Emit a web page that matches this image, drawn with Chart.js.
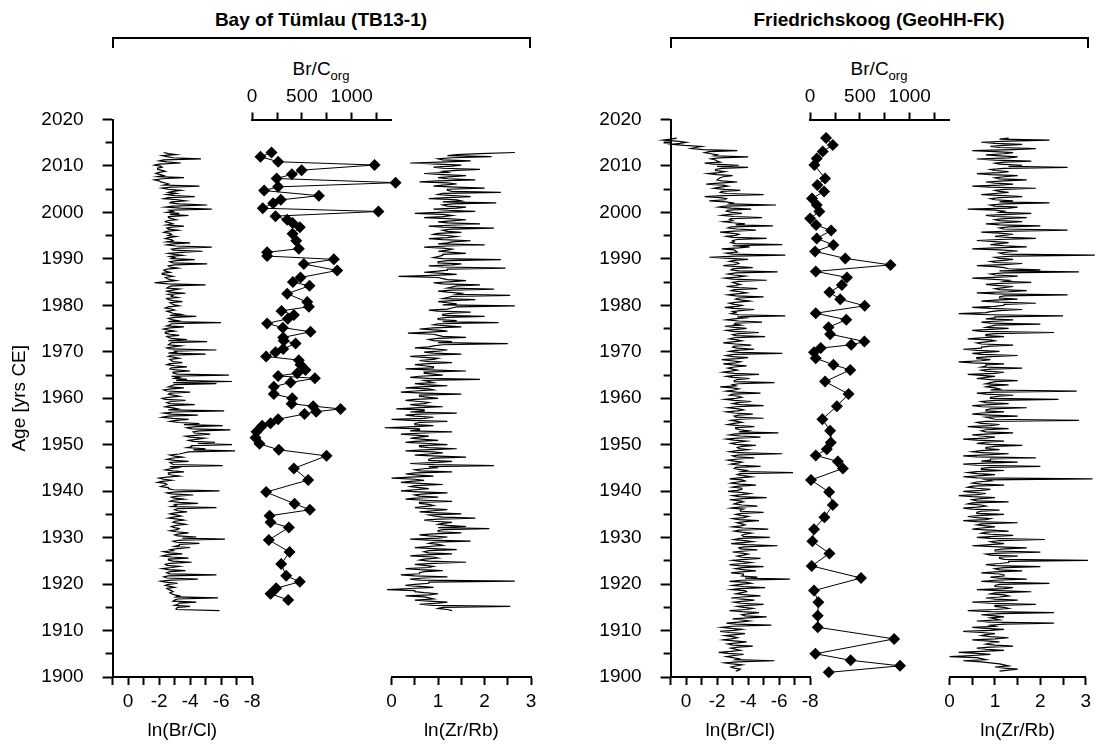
<!DOCTYPE html>
<html><head><meta charset="utf-8">
<script src="https://cdn.jsdelivr.net/npm/chart.js@4.4.1/dist/chart.umd.min.js"></script>
<style>
html,body{margin:0;padding:0;background:#fff;}
#wrap{position:relative;width:1096px;height:747px;overflow:hidden;font-family:"Liberation Sans",Arial,sans-serif;color:#000;background:#fff;}
canvas{position:absolute;left:0;top:0;}
.ttl{position:absolute;font-weight:bold;font-size:19px;white-space:nowrap;transform:translate(-50%,-50%);line-height:1;}
.brk{position:absolute;border:2px solid #000;border-bottom:none;height:11px;box-sizing:border-box;}
.lab{position:absolute;font-size:19px;white-space:nowrap;transform:translate(-50%,-50%);line-height:1;}
.lab sub{font-size:13px;vertical-align:-5px;line-height:1;}
</style></head><body>
<div id="wrap">
  <div class="ttl" style="left:321px;top:19px">Bay of Tümlau (TB13-1)</div>
  <div class="ttl" style="left:879px;top:19px">Friedrichskoog (GeoHH-FK)</div>
  <div class="brk" style="left:112px;top:37px;width:419px"></div>
  <div class="brk" style="left:670px;top:37px;width:419px"></div>
  <div class="lab" style="left:321px;top:70px">Br/C<sub>org</sub></div>
  <div class="lab" style="left:879px;top:70px">Br/C<sub>org</sub></div>
  <canvas id="c0" width="1096" height="747"></canvas>
  <canvas id="c1" width="1096" height="747"></canvas>
  <canvas id="c2" width="1096" height="747"></canvas>
  <canvas id="c3" width="1096" height="747"></canvas>
  <canvas id="c4" width="1096" height="747"></canvas>
  <canvas id="c5" width="1096" height="747"></canvas>
</div>
<script>
// ---------------- DATA ----------------
const ageMajorTicks = [1900,1910,1920,1930,1940,1950,1960,1970,1980,1990,2000,2010,2020];
const ageMinorTicks = [1905,1915,1925,1935,1945,1955,1965,1975,1985,1995,2005,2015];
const brclTicks = [1,0,-1,-2,-3,-4,-5,-6,-7,-8];
const zrrbTicks = [0,0.5,1,1.5,2,2.5,3];
const brcorgTicks = [0,250,500,750,1000,1250];

// Bay of Tümlau (TB13-1): XRF scan, samples evenly spaced between top and bottom age
const tbScanAgeRange = [2012.9, 1914.3];
const tbBrCl = [
-2.3,-2.6,-3.1,-2.2,-2.5,-2.9,-4.7,-2.3,-2.0,-2.5,-3.4,-2.0,-1.7,-2.1,-2.2,-1.9,-1.9,-2.2,-2.4,-2.0,
-1.8,-2.1,-2.3,-1.9,-3.6,-2.2,-1.7,-2.0,-2.1,-2.4,-2.6,-2.3,-4.6,-2.8,-2.2,-2.6,-3.4,-2.9,-2.6,-3.1,
-2.5,-3.0,-4.3,-2.6,-2.3,-3.2,-3.7,-2.8,-2.7,-3.3,-5.1,-2.9,-2.4,-3.4,-5.4,-2.7,-2.9,-2.5,-3.3,-2.7,
-3.9,-2.6,-2.6,-2.8,-3.1,-2.5,-2.4,-2.7,-2.9,-2.5,-3.6,-2.8,-2.5,-2.6,-3.2,-2.5,-2.3,-2.7,-2.8,-2.6,
-3.1,-2.6,-2.4,-2.8,-2.9,-2.5,-4.0,-2.9,-2.5,-3.1,-5.4,-3.3,-2.8,-2.9,-4.8,-3.4,-2.6,-3.0,-3.5,-2.7,
-3.0,-2.8,-4.3,-3.1,-2.7,-2.9,-5.1,-3.0,-2.6,-2.7,-3.2,-2.5,-2.3,-2.4,-2.7,-2.2,-2.2,-2.6,-2.9,-2.4,
-2.5,-2.7,-3.1,-2.4,-1.7,-2.6,-5.0,-2.8,-2.6,-2.5,-3.3,-2.9,-2.5,-2.7,-3.7,-2.6,-2.9,-2.8,-3.2,-2.5,
-2.6,-2.9,-3.5,-2.7,-2.8,-3.0,-3.3,-2.6,-2.4,-2.8,-3.0,-2.5,-2.7,-2.9,-3.4,-2.7,-4.4,-3.0,-2.6,-2.8,
-3.2,-2.6,-6.0,-2.8,-2.7,-2.5,-3.6,-2.7,-2.3,-2.6,-3.0,-2.4,-2.4,-2.7,-3.3,-2.5,-2.6,-2.8,-3.8,-2.6,
-5.1,-2.8,-2.7,-2.6,-3.4,-2.9,-2.5,-2.7,-5.7,-3.0,-3.1,-2.6,-5.0,-2.8,-2.6,-3.0,-3.3,-2.7,-2.8,-2.9,
-3.5,-2.7,-2.5,-3.0,-3.8,-2.8,-2.7,-3.1,-4.0,-2.9,-2.9,-3.2,-6.5,-2.8,-3.3,-3.0,-3.8,-3.1,-6.7,-2.9,
-5.7,-3.0,-2.8,-2.6,-3.6,-2.8,-2.3,-2.5,-4.0,-2.7,-2.6,-2.9,-3.3,-2.6,-2.2,-2.4,-3.7,-2.8,-2.5,-2.7,
-4.3,-2.7,-2.4,-2.9,-3.2,-2.6,-6.2,-3.0,-2.3,-2.8,-4.5,-2.6,-2.2,-2.9,-3.9,-3.1,-2.7,-3.3,-4.6,-3.6,
-6.1,-4.4,-3.8,-4.1,-6.6,-4.6,-4.2,-4.3,-5.3,-4.5,-3.7,-4.0,-4.9,-4.4,-3.9,-4.2,-5.6,-4.5,-6.7,-4.1,
-4.1,-3.8,-5.0,-4.2,-6.9,-3.9,-3.6,-3.3,-2.7,-3.0,-3.5,-2.8,-2.5,-3.0,-3.9,-2.7,-2.8,-2.9,-6.1,-2.7,
-3.2,-2.7,-2.4,-2.9,-3.6,-2.6,-2.6,-2.8,-3.3,-2.5,-2.0,-2.3,-2.8,-2.2,-1.9,-2.4,-2.5,-2.3,-2.1,-2.6,
-2.6,-2.9,-5.9,-3.1,-2.5,-2.8,-4.2,-3.2,-2.8,-3.0,-3.6,-2.9,-2.7,-3.3,-4.5,-3.0,-3.1,-2.8,-5.7,-3.2,
-3.0,-3.2,-3.8,-3.0,-2.7,-3.1,-3.4,-2.9,-2.6,-3.2,-3.6,-3.0,-2.9,-3.3,-3.7,-3.1,-2.8,-3.0,-3.3,-3.2,
-2.7,-3.1,-3.9,-3.3,-3.0,-3.2,-4.4,-3.5,-6.25,-3.4,-2.9,-3.1,-4.6,-3.3,-3.3,-3.0,-4.0,-3.2,-2.7,-2.9,
-2.3,-2.7,-3.5,-2.5,-2.2,-2.8,-3.9,-2.6,-2.6,-2.9,-4.1,-2.7,-2.4,-2.5,-3.3,-2.8,-2.2,-2.6,-3.7,-2.7,
-2.5,-2.7,-5.7,-2.6,-2.3,-2.5,-4.5,-2.8,-2.1,-2.4,-3.2,-2.6,-2.4,-2.7,-3.0,-2.5,-2.6,-2.8,-2.9,-2.7,
-2.8,-3.0,-3.3,-3.1,-5.8,-3.2,-3.0,-2.9,-4.4,-3.3,-3.2,-3.0,-4.0,-3.2,-3.1,-3.1,-5.9];
const tbZrRb = [
2.65,1.9,1.4,1.2,2.15,1.3,1.0,1.1,1.7,1.2,0.4,1.0,1.5,1.3,0.9,1.1,1.9,1.4,1.1,1.2,
0.7,1.1,1.6,1.3,1.0,1.2,1.8,1.0,0.6,1.2,1.4,1.1,0.9,1.4,2.0,1.2,1.2,1.3,2.35,1.1,
1.0,1.3,1.7,1.2,0.8,1.4,1.5,1.1,2.25,1.3,1.1,1.2,1.6,1.4,0.9,1.2,1.8,1.0,0.5,1.1,
1.3,1.1,0.7,1.2,1.6,1.3,1.0,1.2,1.9,1.4,0.8,1.1,2.2,1.3,1.1,1.2,1.5,1.0,0.9,1.2,
1.4,1.2,0.8,1.1,1.7,1.3,1.2,1.0,2.0,1.2,0.7,1.1,1.3,1.2,1.0,1.3,1.6,1.1,1.1,1.0,
0.9,1.1,2.35,1.2,1.0,1.0,1.5,1.3,0.8,1.1,2.45,1.2,1.2,1.0,0.7,1.1,1.4,0.9,0.15,1.0,
1.1,1.2,1.6,1.3,0.9,1.1,1.9,1.4,1.3,1.2,2.2,1.3,1.0,1.2,1.5,1.4,2.55,1.3,1.2,1.1,
1.8,1.3,1.0,1.2,1.4,1.1,2.65,1.4,1.3,1.2,0.8,1.0,1.7,1.3,1.1,1.1,2.0,1.2,1.0,1.0,
1.4,1.1,2.3,1.0,0.9,1.2,1.5,0.9,0.6,1.0,1.2,0.8,0.35,0.9,1.0,1.1,1.6,1.0,0.8,0.9,
1.3,1.0,2.5,1.1,0.9,0.8,0.5,0.9,1.2,1.0,0.7,0.9,1.5,0.8,0.4,0.7,1.0,0.9,0.6,0.8,
1.3,0.8,0.5,0.7,0.9,0.9,0.3,0.8,1.6,0.7,0.7,0.9,1.1,0.6,0.4,0.8,1.9,0.7,0.8,0.9,
0.5,0.7,1.2,0.6,0.3,0.8,0.9,0.5,0.2,0.7,1.5,0.6,0.6,0.8,1.0,0.5,0.3,0.6,0.8,0.7,
0.4,0.6,1.1,0.5,0.1,0.7,0.7,0.4,1.4,0.6,0.3,0.5,0.9,0.7,0.0,0.4,1.2,0.6,0.5,0.5,
0.9,0.5,-0.15,0.6,0.6,0.4,1.3,0.7,0.2,0.5,0.8,0.6,0.4,0.7,1.0,0.5,0.3,0.8,1.2,0.6,
0.6,0.8,1.4,0.7,0.3,0.9,1.1,0.8,0.5,1.0,1.6,0.9,0.8,0.8,1.3,1.0,0.4,0.9,2.2,0.8,
1.0,0.7,0.5,0.6,1.3,0.5,0.3,0.6,0.9,0.4,0.0,0.5,0.7,0.4,0.2,0.6,1.1,0.5,0.4,0.6,
0.8,0.5,0.2,0.6,1.2,0.7,0.5,0.6,1.0,0.5,0.3,0.7,1.3,0.6,0.6,0.8,0.9,0.7,0.5,0.8,
1.2,0.9,0.6,1.0,1.5,0.8,0.9,1.1,1.8,1.0,0.7,0.9,1.3,1.1,1.0,1.2,1.6,1.0,2.1,1.1,
1.0,1.0,1.5,0.9,0.6,0.8,1.2,1.0,0.4,0.8,1.7,0.9,0.8,1.0,1.1,0.8,0.5,0.9,1.4,0.8,
0.7,0.8,1.3,0.7,0.4,0.9,1.0,0.7,0.6,0.8,1.6,0.9,0.5,0.7,0.9,0.8,0.3,0.6,1.1,0.7,
0.6,0.6,0.2,0.5,1.2,0.7,0.4,0.6,2.65,0.8,0.8,0.5,0.3,0.6,0.9,0.4,-0.1,0.5,0.5,0.7,
1.0,0.8,0.3,0.7,0.8,0.9,0.5,0.8,1.2,1.0,0.6,0.9,2.55,1.1,1.0,1.2,1.3];
const tbBrCorgAge = [2012.9,2012.0,2010.9,2010.2,2009.1,2008.2,2007.3,2006.4,2005.5,2004.7,
2003.6,2002.7,2002.0,2000.9,2000.2,1999.2,1998.4,1997.7,1996.8,1995.4,
1993.9,1992.2,1991.4,1990.6,1989.9,1988.9,1987.5,1986.0,1985.0,1984.2,
1982.5,1980.7,1979.7,1978.8,1977.9,1977.1,1976.1,1975.2,1974.3,1973.1,
1972.4,1971.8,1970.6,1969.9,1969.0,1968.2,1967.2,1966.1,1965.4,1964.8,
1964.3,1963.4,1962.5,1960.9,1960.0,1958.8,1958.3,1957.7,1957.1,1956.6,
1955.5,1954.6,1954.1,1952.8,1951.5,1950.2,1948.9,1947.6,1944.9,1942.4,
1939.8,1937.3,1936.0,1934.7,1933.3,1932.2,1929.5,1926.9,1924.3,1921.8,
1920.5,1919.1,1917.9,1916.6];
const tbBrCorg = [195,84,261,1229,497,399,246,1440,261,121,
670,288,211,107,1268,235,352,406,479,406,
443,469,151,151,820,519,854,486,409,576,
352,553,570,295,419,358,151,308,586,312,
318,436,312,235,141,469,486,536,453,261,
630,386,218,218,403,396,613,888,643,526,
261,185,101,44,34,74,268,747,419,563,
141,426,580,175,185,369,168,376,292,342,
479,242,185,362];

// Friedrichskoog (GeoHH-FK)
const fkScanAgeRange = [2016.0, 1901.25];
const fkBrCl = [
0.6,1.0,1.5,0.6,0.0,0.4,0.9,0.1,-1.0,-0.6,-0.3,-1.1,-3.3,-1.5,-1.2,-1.6,-2.0,-1.8,-4.0,-2.1,
-1.6,-1.9,-2.0,-2.2,-1.2,-1.8,-3.4,-2.0,-4.0,-2.3,-1.9,-1.9,-2.5,-2.1,-1.4,-2.0,-3.0,-2.4,-2.2,-2.1,
-2.0,-2.3,-3.3,-2.1,-1.3,-2.4,-2.7,-2.2,-1.8,-2.5,-3.5,-2.3,-2.2,-2.6,-5.0,-2.4,-1.2,-2.2,-2.6,-2.5,
-1.5,-2.6,-3.0,-2.8,-5.8,-2.5,-2.1,-2.9,-4.2,-2.7,-2.6,-3.0,-3.6,-2.8,-2.3,-3.1,-4.9,-2.9,-2.8,-3.0,
-2.4,-3.0,-3.8,-3.2,-5.6,-2.9,-2.7,-3.3,-4.5,-3.1,-2.2,-2.9,-3.4,-3.2,-2.6,-3.0,-5.2,-3.3,-3.0,-3.1,
-2.9,-3.2,-6.2,-3.0,-4.1,-3.4,-2.3,-3.1,-3.2,-3.3,-2.6,-3.0,-6.4,-3.2,-1.5,-2.8,-4.0,-3.1,-2.8,-3.3,
-3.4,-3.1,-2.4,-3.3,-4.3,-3.0,-2.9,-3.4,-5.9,-3.2,-2.7,-3.1,-3.8,-3.3,-2.5,-3.0,-5.2,-3.4,-3.0,-3.2,
-3.5,-3.2,-2.6,-3.4,-4.6,-3.1,-2.9,-3.5,-3.9,-3.3,-2.7,-3.2,-5.0,-3.4,-3.2,-3.6,-4.1,-3.3,-2.8,-3.1,
-3.6,-3.3,-2.5,-3.1,-4.4,-3.5,-3.0,-3.2,-2.9,-3.4,-6.4,-3.3,-3.8,-3.1,-2.6,-3.4,-4.9,-3.2,-3.1,-3.5,
-2.5,-3.1,-3.9,-3.3,-2.6,-3.0,-4.7,-3.4,-3.0,-3.2,-5.1,-3.1,-2.8,-3.3,-3.6,-3.0,-2.4,-3.2,-4.2,-3.1,
-3.0,-3.3,-4.4,-3.2,-2.8,-3.4,-6.2,-3.1,-2.6,-3.0,-4.0,-3.3,-2.3,-2.9,-3.5,-3.2,-2.4,-3.0,-3.9,-3.1,
-2.7,-3.0,-3.3,-2.9,-2.4,-3.1,-4.7,-3.2,-2.6,-3.0,-4.1,-3.3,-3.1,-3.1,-5.7,-3.4,-3.0,-3.2,-2.2,-3.0,
-3.4,-3.1,-2.6,-3.3,-4.8,-3.0,-2.8,-3.4,-3.6,-3.2,-2.5,-3.1,-4.2,-3.3,-3.0,-3.5,-5.0,-3.2,-2.7,-3.4,
-3.7,-3.3,-2.6,-3.1,-4.3,-3.4,-3.1,-3.2,-5.0,-3.5,-2.9,-3.3,-3.6,-3.1,-2.7,-3.4,-4.4,-3.2,-3.2,-3.5,
-4.0,-3.4,-5.95,-3.2,-2.8,-3.5,-4.8,-3.3,-2.6,-3.1,-3.9,-3.4,-2.9,-3.2,-4.5,-3.6,-3.3,-3.4,-4.0,-3.3,
-2.8,-3.3,-6.2,-3.5,-3.0,-3.2,-4.4,-3.4,-2.7,-3.1,-3.6,-3.3,-2.9,-3.5,-4.8,-3.2,-3.1,-3.4,-3.9,-3.6,
-6.9,-3.5,-3.3,-3.7,-4.2,-3.4,-2.8,-3.6,-3.8,-3.3,-2.9,-3.5,-4.5,-3.4,-3.0,-3.6,-3.6,-3.3,-2.7,-3.5,
-4.1,-3.6,-3.0,-3.4,-5.2,-3.7,-2.8,-3.5,-3.7,-3.3,-3.1,-3.6,-4.6,-3.4,-2.9,-3.7,-3.5,-3.5,-5.0,-3.6,
-3.2,-3.5,-4.0,-3.7,-3.0,-3.4,-4.7,-3.8,-3.3,-3.6,-3.8,-3.5,-3.0,-3.7,-5.3,-3.4,-3.1,-3.6,-4.2,-3.8,
-3.6,-3.7,-5.4,-3.5,-3.1,-3.8,-4.3,-3.6,-2.9,-3.9,-5.9,-3.7,-3.4,-3.5,-4.6,-3.8,-3.0,-3.6,-4.0,-3.7,
-3.3,-3.6,-4.8,-3.8,-3.0,-3.5,-4.2,-3.7,-2.8,-3.4,-5.0,-3.6,-3.2,-3.8,-4.5,-3.5,-2.9,-3.7,-3.7,-3.6,
-4.6,-3.8,-6.7,-3.6,-2.8,-3.9,-4.2,-3.5,-3.0,-3.7,-5.1,-3.4,-2.9,-3.8,-3.9,-3.5,-3.2,-3.9,-4.8,-3.6,
-2.9,-3.6,-4.4,-3.8,-3.1,-3.5,-5.0,-4.0,-3.3,-3.7,-4.3,-3.9,-2.8,-3.6,-4.7,-4.1,-3.6,-3.8,-5.2,-4.0,
-3.0,-3.6,-4.1,-3.4,-2.6,-3.2,-5.5,-3.0,-2.3,-2.9,-3.6,-3.1,-2.2,-2.8,-3.8,-3.2,-2.5,-3.0,-3.3,-2.9,
-2.4,-3.1,-3.9,-3.3,-2.7,-3.0,-4.3,-3.4,-2.9,-3.2,-3.5,-2.9,-2.1,-2.7,-3.7,-3.1,-2.6,-3.0,-3.4,-3.2,
-5.7,-3.3,-2.5,-3.0,-3.6,-3.2,-2.9,-3.1,-3.5,-3.4,-3.2];
const fkZrRb = [
1.3,1.1,2.2,1.3,0.7,1.0,1.6,1.2,0.9,1.1,1.9,1.4,0.5,1.0,1.4,1.2,0.8,1.1,1.5,1.3,
0.6,1.0,1.8,1.2,1.0,1.1,1.6,1.3,2.6,1.2,0.9,1.0,1.3,1.1,0.6,0.9,1.5,1.2,1.0,1.1,
1.7,1.2,0.8,1.0,1.4,1.1,0.5,0.9,1.9,1.2,1.0,1.1,1.3,1.0,0.7,1.2,1.6,1.1,0.9,1.0,
1.4,1.1,2.2,1.2,0.9,1.0,1.5,1.3,0.4,1.0,1.2,1.1,1.8,1.3,0.8,1.0,1.7,1.2,1.0,1.1,
1.6,1.2,0.8,1.1,2.0,1.3,1.1,1.2,2.6,1.4,0.7,1.1,1.4,1.2,1.0,1.3,1.9,1.1,0.6,1.0,
1.3,1.1,0.9,1.2,1.7,1.0,0.5,1.1,1.5,1.3,1.1,1.2,3.2,1.4,1.0,1.1,1.4,1.2,0.9,1.0,
1.6,1.2,0.6,1.0,1.2,1.3,2.0,1.1,2.85,1.2,0.9,1.0,1.5,1.1,0.5,0.9,1.3,1.2,1.8,1.1,
0.8,1.0,1.4,1.2,1.0,1.1,1.7,1.3,0.6,1.0,2.6,1.2,1.1,1.1,1.5,1.0,0.7,1.1,1.9,1.2,
1.2,1.0,0.5,0.9,1.6,1.1,0.9,0.8,0.2,0.9,2.5,1.0,1.0,0.8,1.4,1.1,0.7,0.9,2.0,1.0,
0.9,0.8,1.3,0.9,0.5,0.7,2.3,1.0,0.8,0.8,1.2,0.7,0.4,0.9,1.0,0.8,0.6,0.7,1.4,0.9,
0.7,0.7,0.3,0.6,1.1,0.8,0.5,0.7,1.5,0.9,0.6,0.6,0.9,0.7,0.2,0.5,1.2,0.8,0.8,0.7,
1.6,0.9,0.7,0.8,1.2,1.0,0.4,0.7,1.0,0.8,0.6,0.9,1.5,1.0,0.9,0.8,1.3,0.9,0.8,1.0,
1.1,0.9,2.8,1.0,0.6,0.8,1.4,1.1,0.9,0.9,2.4,1.0,0.7,0.8,1.3,0.9,0.5,0.7,1.7,0.9,
0.8,0.8,1.2,0.7,0.5,0.9,1.5,0.8,0.9,1.0,2.85,0.8,0.6,0.7,1.1,0.9,0.4,0.7,1.3,0.8,
0.7,0.8,1.4,0.9,0.5,0.7,1.0,0.8,0.3,0.6,1.2,0.8,0.6,0.9,1.6,1.0,0.8,0.8,1.1,0.7,
0.5,0.7,1.3,0.8,0.3,0.6,1.9,0.9,0.9,0.7,1.5,0.8,0.3,0.6,2.0,0.9,0.7,0.7,1.2,0.6,
0.4,0.6,1.0,0.7,0.3,0.6,3.15,0.8,0.9,0.6,0.5,0.7,1.2,0.5,0.4,0.6,0.9,0.7,0.3,0.5,
0.8,0.6,0.2,0.5,1.0,0.7,0.5,0.6,1.3,0.5,0.4,0.7,0.8,0.6,0.3,0.5,1.1,0.7,0.6,0.6,
1.2,0.7,0.4,0.6,0.9,0.8,0.3,0.6,1.5,0.7,0.6,0.8,1.0,0.7,0.5,0.9,1.3,0.8,0.7,0.9,
1.4,1.0,0.6,0.9,2.1,1.1,0.9,1.0,1.2,0.9,0.5,1.1,1.7,1.2,1.0,1.0,2.0,1.1,0.8,0.9,
1.5,1.1,1.1,1.2,3.05,1.3,1.3,1.1,0.8,1.0,2.0,1.2,1.0,1.1,1.6,1.0,0.7,1.1,1.2,1.2,
0.9,1.1,1.7,1.0,0.7,1.2,2.2,1.1,1.0,1.0,1.4,1.2,0.6,1.1,1.8,1.0,0.9,1.2,1.3,1.1,
0.8,1.0,1.5,1.1,0.5,0.9,1.9,1.0,1.0,1.2,1.3,1.0,0.4,0.9,2.3,1.1,0.7,1.0,1.2,0.9,
1.0,1.1,0.6,0.9,2.3,1.2,0.9,1.0,0.5,0.8,1.2,0.9,0.3,0.7,1.0,0.8,0.7,0.9,1.3,1.0,
0.5,0.8,1.1,0.9,0.8,1.0,1.4,0.9,0.6,0.8,1.2,0.7,0.2,0.6,0.9,0.5,0.0,0.6,0.7,0.8,
0.3,0.7,0.9,1.1,1.2,1.3,1.0,1.2,1.5,1.3,1.1];
const fkBrCorgAge = [2016.0,2014.5,2013.1,2011.6,2010.2,2007.3,2005.9,2004.5,2003.0,2001.6,
2000.2,1998.7,1997.3,1996.1,1994.4,1993.0,1991.6,1990.1,1988.7,1987.3,
1986.0,1984.4,1982.8,1981.3,1979.9,1978.3,1976.9,1975.3,1973.8,1972.2,
1971.5,1970.8,1969.9,1968.6,1967.2,1966.1,1963.6,1960.9,1958.3,1955.5,
1953.0,1950.5,1949.0,1947.7,1946.4,1944.9,1942.4,1939.8,1937.0,1934.4,
1931.8,1929.2,1926.6,1923.9,1921.3,1918.6,1916.1,1913.2,1910.7,1908.2,
1905.0,1903.6,1902.4,1901.0];
const fkBrCorg = [160,228,127,67,43,150,73,140,19,67,
93,0,60,211,67,234,50,353,807,57,
370,319,194,302,548,57,363,185,201,545,
413,107,39,57,234,403,150,386,269,123,
201,208,168,57,279,329,9,191,228,144,
39,23,194,16,511,39,83,77,77,843,
53,407,902,187];

// ---------------- CHARTS ----------------
Chart.defaults.font.family = '"Liberation Sans", Arial, sans-serif';
Chart.defaults.font.size = 19;
Chart.defaults.color = '#000';

const W = 1096, H = 747;
const AREA_TOP = 119.5, AREA_BOTTOM = 677;
const COLW = 139.5;
const PANEL_LEFT = [112.6, 670.6];
const TOP_AXIS_H = 40;

function scanAges(range, n){ const a=[]; for(let i=0;i<n;i++) a.push(range[0]-(range[0]-range[1])*i/(n-1)); return a; }
function pts(vals, ages){ return vals.map((v,i)=>({x:v, y:ages[i]})); }

const grid = (len)=>({display:true, drawOnChartArea:false, drawTicks:true, tickLength:len, tickWidth:2, tickColor:'#000'});
const border = {display:true, color:'#000', width:2};
const setTicks = (arr)=> (s)=>{ s.ticks = arr.map(v=>({value:v})); };

function yScales(show, withTitle, width){
  if(!show) return {y:{type:'linear', min:1900, max:2020, display:false}};
  return {
    y:{
      type:'linear', position:'left', min:1900, max:2020, weight:1,
      afterBuildTicks: setTicks(ageMajorTicks),
      afterFit: (s)=>{ s.width = width; },
      ticks:{autoSkip:false, padding:19, callback:(v)=> String(v)},
      grid: grid(10), border,
      title:{display:withTitle, text:'Age [yrs CE]', padding:{top:4,bottom:4}}
    },
    yMinor:{
      type:'linear', position:'left', min:1900, max:2020, weight:0,
      afterBuildTicks: setTicks(ageMinorTicks),
      afterFit: (s)=>{ s.width = 0; },
      ticks:{display:false, autoSkip:false},
      grid: grid(7), border:{display:false}
    }
  };
}
function brclAxis(){
  return {type:'linear', position:'bottom', min:-8, max:1, reverse:true,
    afterBuildTicks: setTicks(brclTicks),
    afterFit:(s)=>{ s.height = H-AREA_BOTTOM; },
    ticks:{autoSkip:false, maxRotation:0, minRotation:0, padding:5, callback:(v)=> (v%2===0 ? String(v) : '')},
    grid: grid(8), border,
    title:{display:true, text:'ln(Br/Cl)', padding:{top:0,bottom:5}}};
}
function zrAxis(){
  return {type:'linear', position:'bottom', min:0, max:3,
    afterBuildTicks: setTicks(zrrbTicks),
    afterFit:(s)=>{ s.height = H-AREA_BOTTOM; },
    ticks:{autoSkip:false, maxRotation:0, minRotation:0, padding:5, callback:(v)=> (Number.isInteger(v) ? String(v) : '')},
    grid: grid(8), border,
    title:{display:true, text:'ln(Zr/Rb)', padding:{top:0,bottom:5}}};
}
function corgAxis(){
  return {type:'linear', position:'top', min:0, max:1400,
    afterBuildTicks: setTicks(brcorgTicks),
    afterFit:(s)=>{ s.height = TOP_AXIS_H; },
    ticks:{autoSkip:false, maxRotation:0, minRotation:0, padding:4, callback:(v)=> (v%500===0 ? String(v) : '')},
    grid: grid(7), border};
}

function lineDs(data){ return {data, showLine:true, borderColor:'#000', borderWidth:1.2, pointRadius:0, clip:false, tension:0}; }
function diamondDs(data){ return {data, showLine:true, borderColor:'#000', borderWidth:1, pointStyle:'rectRot', pointRadius:6, pointBackgroundColor:'#000', pointBorderColor:'#000', pointBorderWidth:0, clip:false}; }

function make(id, panel, col, ds, xScale, yShow, yTitle){
  const left = PANEL_LEFT[panel] + col*COLW, right = left + COLW;
  const pad = {left:left, right:W-right, top:AREA_TOP, bottom:H-AREA_BOTTOM};
  if(xScale.position==='bottom') pad.bottom = 0;
  if(xScale.position==='top') pad.top = AREA_TOP - TOP_AXIS_H;
  let yw = 0;
  if(yShow){ pad.left = yTitle ? 4.6 : 600; yw = left - pad.left; }
  const scales = Object.assign({x:xScale}, yScales(yShow, yTitle, yw));
  new Chart(document.getElementById(id), {
    type:'scatter',
    data:{datasets:[ds]},
    options:{
      responsive:false, animation:false, events:[],
      layout:{padding:pad},
      plugins:{legend:{display:false}, tooltip:{enabled:false}, title:{display:false}},
      scales
    }
  });
}

make('c0', 0, 0, lineDs(pts(tbBrCl, scanAges(tbScanAgeRange, tbBrCl.length))), brclAxis(), true, true);
make('c1', 0, 1, diamondDs(pts(tbBrCorg, tbBrCorgAge)), corgAxis(), false, false);
make('c2', 0, 2, lineDs(pts(tbZrRb, scanAges(tbScanAgeRange, tbZrRb.length))), zrAxis(), false, false);
make('c3', 1, 0, lineDs(pts(fkBrCl, scanAges(fkScanAgeRange, fkBrCl.length))), brclAxis(), true, false);
make('c4', 1, 1, diamondDs(pts(fkBrCorg, fkBrCorgAge)), corgAxis(), false, false);
make('c5', 1, 2, lineDs(pts(fkZrRb, scanAges(fkScanAgeRange, fkZrRb.length))), zrAxis(), false, false);
</script>
</body></html>
